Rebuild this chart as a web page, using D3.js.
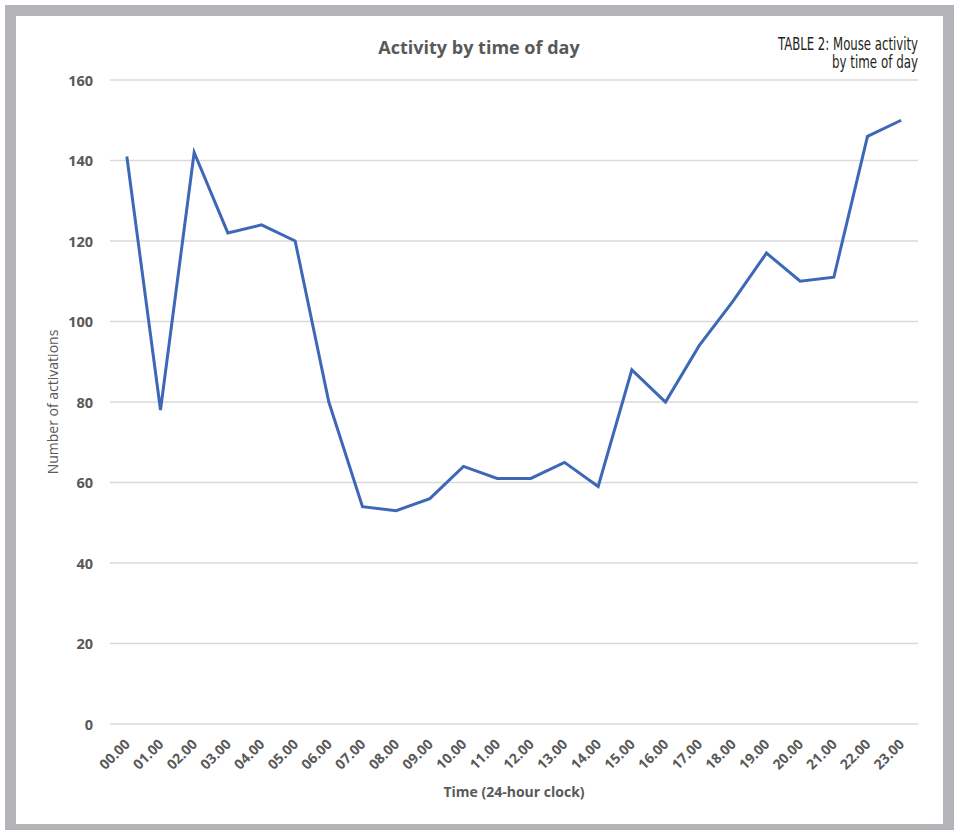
<!DOCTYPE html>
<html>
<head>
<meta charset="utf-8">
<script src="https://cdn.jsdelivr.net/npm/d3@7"></script>
<style>
  html, body { margin: 0; padding: 0; background: #ffffff; }
  svg { display: block; }
</style>
</head>
<body>
<svg id="chart" width="958" height="830"></svg>
<script>
// Hourly activation counts
const hours = ["00.00","01.00","02.00","03.00","04.00","05.00","06.00","07.00","08.00","09.00","10.00","11.00",
               "12.00","13.00","14.00","15.00","16.00","17.00","18.00","19.00","20.00","21.00","22.00","23.00"];
const activations = [141, 78, 142, 122, 124, 120, 80, 54, 53, 56, 64, 61,
                     61, 65, 59, 88, 80, 94, 105, 117, 110, 111, 146, 150];
const yTicks = [0, 20, 40, 60, 80, 100, 120, 140, 160];

const chartTitle = "Activity by time of day";
const captionLines = ["TABLE 2: Mouse activity", "by time of day"];
const xTitle = "Time (24-hour clock)";
const yTitle = "Number of activations";

const svg = d3.select("#chart");
const textColor = "#595959";
const font = "'Open Sans', 'DejaVu Sans', sans-serif";

// Grey frame
svg.append("rect")
  .attr("x", 10.5).attr("y", 10.5)
  .attr("width", 938).attr("height", 819)
  .attr("fill", "#ffffff")
  .attr("stroke", "#b3b4b8")
  .attr("stroke-width", 11);

const plot = { left: 110, right: 918, top: 80, bottom: 724 };

const x = d3.scaleBand()
  .domain(hours)
  .range([plot.left, plot.right]);

const y = d3.scaleLinear()
  .domain([0, 160])
  .range([plot.bottom, plot.top]);

// Horizontal gridlines
svg.append("g")
  .selectAll("line")
  .data(yTicks)
  .join("line")
  .attr("x1", plot.left).attr("x2", plot.right)
  .attr("y1", d => y(d)).attr("y2", d => y(d))
  .attr("stroke", "#d9d9d9")
  .attr("stroke-width", 1.3);

// Y axis labels
const yAxis = d3.axisLeft(y).tickValues(yTicks).tickSize(0).tickPadding(0);
const yg = svg.append("g")
  .attr("transform", `translate(${plot.left - 17},0)`)
  .call(yAxis);
yg.select(".domain").remove();
yg.selectAll("text")
  .attr("fill", textColor)
  .attr("font-family", font)
  .attr("font-weight", "bold")
  .attr("font-size", 14.5)
  .attr("dy", "0.35em");

// X axis labels, rotated
const xAxis = d3.axisBottom(x).tickSize(0).tickPadding(0);
const xg = svg.append("g")
  .attr("transform", `translate(0,${plot.bottom})`)
  .call(xAxis);
xg.select(".domain").remove();
xg.selectAll("text")
  .attr("fill", textColor)
  .attr("font-family", font)
  .attr("font-weight", "bold")
  .attr("font-size", 14)
  .attr("text-anchor", "end")
  .attr("dy", 0)
  .attr("y", 0)
  .attr("transform", "translate(4,21) rotate(-45)");

// Data line
const line = d3.line()
  .x((d, i) => x(hours[i]) + x.bandwidth() / 2)
  .y(d => y(d));

svg.append("path")
  .datum(activations)
  .attr("d", line)
  .attr("fill", "none")
  .attr("stroke", "#3d68b8")
  .attr("stroke-width", 3)
  .attr("stroke-linejoin", "miter");

// Chart title
svg.append("text")
  .attr("x", 479).attr("y", 54)
  .attr("text-anchor", "middle")
  .attr("fill", textColor)
  .attr("font-family", font)
  .attr("font-weight", "bold")
  .attr("font-size", 18)
  .text(chartTitle);

// Axis titles
svg.append("text")
  .attr("x", 514).attr("y", 797)
  .attr("text-anchor", "middle")
  .attr("fill", textColor)
  .attr("font-family", font)
  .attr("font-weight", "bold")
  .attr("font-size", 14)
  .text(xTitle);

svg.append("text")
  .attr("transform", `translate(58,${(plot.top + plot.bottom) / 2}) rotate(-90)`)
  .attr("text-anchor", "middle")
  .attr("fill", textColor)
  .attr("font-family", font)
  .attr("font-size", 14)
  .text(yTitle);

// Caption in the top-right corner
const capWidths = [140, 86];
svg.append("g")
  .selectAll("text")
  .data(captionLines)
  .join("text")
  .attr("x", (d, i) => 918 - capWidths[i])
  .attr("y", (d, i) => 50 + i * 18)
  .attr("fill", "#231f20")
  .attr("font-family", "'Liberation Sans Narrow', 'DejaVu Sans Condensed', sans-serif")
  .attr("font-size", 17)
  .attr("textLength", (d, i) => capWidths[i])
  .attr("lengthAdjust", "spacingAndGlyphs")
  .text(d => d);
</script>
</body>
</html>
